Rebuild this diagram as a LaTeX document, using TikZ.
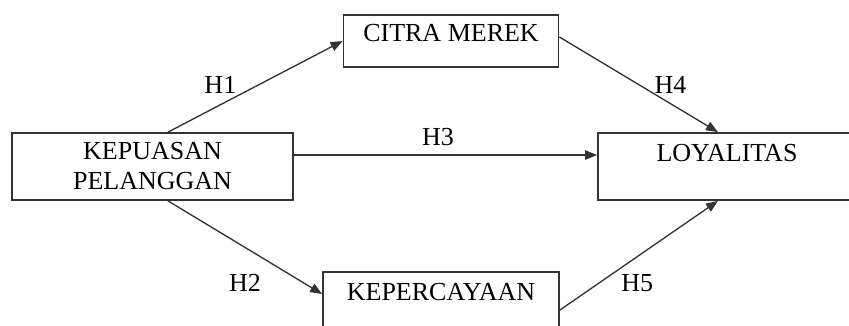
\documentclass[tikz,border=0pt]{standalone}
\usepackage{fontspec}
\setmainfont{Liberation Serif}
\usetikzlibrary{arrows.meta}

\begin{document}
\begin{tikzpicture}[
  x=0.75pt, y=-0.75pt,
  font=\fontsize{19.5}{22.5}\selectfont,
  box/.style={draw=black!80, line width=1.3pt, align=center},
  onebox/.style={box, text height=13pt},
  arr/.style={-{Triangle[length=9pt,width=7pt]}, line width=1pt, draw=black!80}
]
\clip (0,0) rectangle (849,325);

\node[onebox, minimum width=161.25pt, minimum height=39pt, text depth=13pt]
  (citra) at (451,41) {CITRA MEREK};
\node[box, minimum width=210.75pt, minimum height=50.25pt]
  (kep) at (152.5,166.5) {KEPUASAN\\PELANGGAN};
\node[onebox, minimum width=193.5pt, minimum height=50.25pt, text depth=20.5pt]
  (loy) at (727,166.5) {LOYALITAS};
\node[onebox, minimum width=177pt, minimum height=50.25pt, text depth=20.5pt]
  (kpc) at (441,305.5) {KEPERCAYAAN};

%% hypotheses
\draw[arr] ([xshift=11.6pt]kep.north) -- (citra.west)
  node[pos=0.3, above=5pt] {H1};
\draw[arr] ([yshift=3pt]citra.east) -- ([xshift=-6.75pt]loy.north)
  node[pos=0.7, above=4pt] {H4};
\draw[arr] ([yshift=8.6pt]kep.east) -- ([yshift=8.6pt]loy.west)
  node[pos=0.475, above=3pt] {H3};
\draw[arr] ([xshift=11.6pt]kep.south) -- ([yshift=8.6pt]kpc.west)
  node[pos=0.5, below=16pt] {H2};
\draw[arr] ([yshift=-3.4pt]kpc.east) -- ([xshift=-6.75pt]loy.south)
  node[pos=0.49, below=9.7pt] {H5};
\end{tikzpicture}
\end{document}
